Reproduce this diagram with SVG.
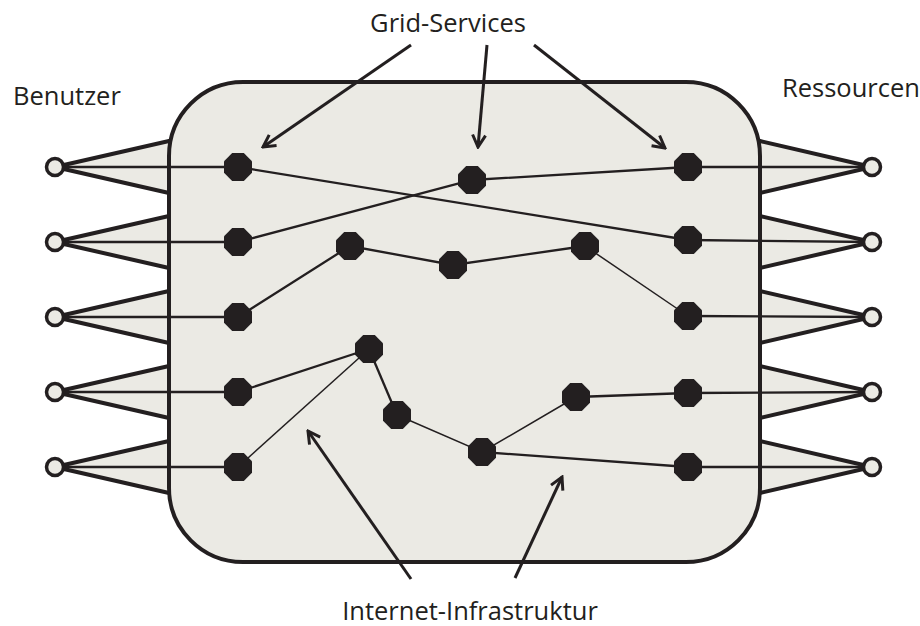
<svg xmlns="http://www.w3.org/2000/svg" xmlns:xlink="http://www.w3.org/1999/xlink" width="920" height="626" viewBox="0 0 920 626">
<style>
.lbl{font-family:"Open Sans","Noto Sans",sans-serif;font-size:25.5px;fill:#231f20}
.fan{fill:#ebeae4;stroke:none}
.fl{fill:none;stroke:#231f20;stroke-width:4;stroke-linecap:round}
.term{fill:#ebeae4;stroke:#231f20;stroke-width:3.5}
.ln{fill:none;stroke:#231f20;stroke-width:2.3}
.thin{fill:none;stroke:#231f20;stroke-width:1.5}
.arr{fill:none;stroke:#231f20;stroke-width:3;marker-end:url(#ah)}
.box{fill:#ebeae4;stroke:#231f20;stroke-width:4}
</style>
<defs>
<marker id="ah" viewBox="0 0 16 16" refX="14" refY="8" markerWidth="16" markerHeight="16" markerUnits="userSpaceOnUse" orient="auto">
<path d="M2,1.5 L14,8 L2,14.5" fill="none" stroke="#231f20" stroke-width="3"/>
</marker>
<polygon id="oct" points="5.8,-14 14,-5.8 14,5.8 5.8,14 -5.8,14 -14,5.8 -14,-5.8 -5.8,-14" fill="#231f20"/>
</defs>

<g id="fans">
<g id="user-fans">
<polygon class="fan" points="55,167 169,141 169,193"/>
<polygon class="fan" points="55,242 169,216 169,268"/>
<polygon class="fan" points="55,317 169,291 169,343"/>
<polygon class="fan" points="55,392 169,366 169,418"/>
<polygon class="fan" points="55,467 169,441 169,493"/>
<path class="fl" d="M55,167 L169,141 M55,167 L169,193 M55,242 L169,216 M55,242 L169,268 M55,317 L169,291 M55,317 L169,343 M55,392 L169,366 M55,392 L169,418 M55,467 L169,441 M55,467 L169,493"/>
</g>
<g id="res-fans">
<polygon class="fan" points="872,167 760,141 760,193"/>
<polygon class="fan" points="872,242 760,216 760,268"/>
<polygon class="fan" points="872,317 760,291 760,343"/>
<polygon class="fan" points="872,392 760,366 760,418"/>
<polygon class="fan" points="872,467 760,441 760,493"/>
<path class="fl" d="M872,167 L760,141 M872,167 L760,193 M872,242 L760,216 M872,242 L760,268 M872,317 L760,291 M872,317 L760,343 M872,392 L760,366 M872,392 L760,418 M872,467 L760,441 M872,467 L760,493"/>
</g>
</g>

<g id="infrastructure">
<rect class="box" x="169" y="82" width="591" height="480" rx="74" ry="74"/>
</g>

<g id="connectors">
<path class="ln" d="M55,167 L238,167 M55,242 L238,242 M55,317 L238,317 M55,392 L238,392 M55,467 L238,467"/>
<path class="ln" d="M688,167 L872,167 M688,240 L872,242 M688,316 L872,317 M688,393 L872,392 M688,467 L872,467"/>
<path class="ln" d="M238,167 L688,240"/>
<path class="ln" d="M238,242 L472,180 L688,167"/>
<path class="ln" d="M238,317 L350,246 L453,265 L585,246"/>
<path class="thin" d="M585,246 L688,316"/>
<path class="ln" d="M238,392 L369,349"/>
<path class="thin" d="M238,467 L369,349"/>
<path class="ln" d="M369,349 L397,415"/>
<path class="thin" d="M397,415 L482,452 L576,397"/>
<path class="ln" d="M576,397 L688,393"/>
<path class="ln" d="M482,452 L688,467"/>
<path class="arr" d="M411,45 L263,147"/>
<path class="arr" d="M487,45 L478,147"/>
<path class="arr" d="M534,45 L665,148"/>
<path class="arr" d="M411,579 L308,431"/>
<path class="arr" d="M515,578 L562,477"/>
</g>

<g id="users">
<circle class="term" cx="55" cy="167" r="8.5"/>
<circle class="term" cx="55" cy="242" r="8.5"/>
<circle class="term" cx="55" cy="317" r="8.5"/>
<circle class="term" cx="55" cy="392" r="8.5"/>
<circle class="term" cx="55" cy="467" r="8.5"/>
</g>
<g id="resources">
<circle class="term" cx="872" cy="167" r="8.5"/>
<circle class="term" cx="872" cy="242" r="8.5"/>
<circle class="term" cx="872" cy="317" r="8.5"/>
<circle class="term" cx="872" cy="392" r="8.5"/>
<circle class="term" cx="872" cy="467" r="8.5"/>
</g>

<g id="nodes">
<use xlink:href="#oct" x="238" y="167"/>
<use xlink:href="#oct" x="238" y="242"/>
<use xlink:href="#oct" x="238" y="317"/>
<use xlink:href="#oct" x="238" y="392"/>
<use xlink:href="#oct" x="238" y="467"/>
<use xlink:href="#oct" x="688" y="167"/>
<use xlink:href="#oct" x="688" y="240"/>
<use xlink:href="#oct" x="688" y="316"/>
<use xlink:href="#oct" x="688" y="393"/>
<use xlink:href="#oct" x="688" y="467"/>
<use xlink:href="#oct" x="472" y="180"/>
<use xlink:href="#oct" x="350" y="246"/>
<use xlink:href="#oct" x="453" y="265"/>
<use xlink:href="#oct" x="585" y="246"/>
<use xlink:href="#oct" x="369" y="349"/>
<use xlink:href="#oct" x="397" y="415"/>
<use xlink:href="#oct" x="482" y="452"/>
<use xlink:href="#oct" x="576" y="397"/>
</g>

<g id="labels">
<text class="lbl" x="448" y="32" text-anchor="middle">Grid-Services</text>
<text class="lbl" x="13" y="105">Benutzer</text>
<text class="lbl" x="782" y="97">Ressourcen</text>
<text class="lbl" x="470" y="620" text-anchor="middle">Internet-Infrastruktur</text>
</g>
</svg>
